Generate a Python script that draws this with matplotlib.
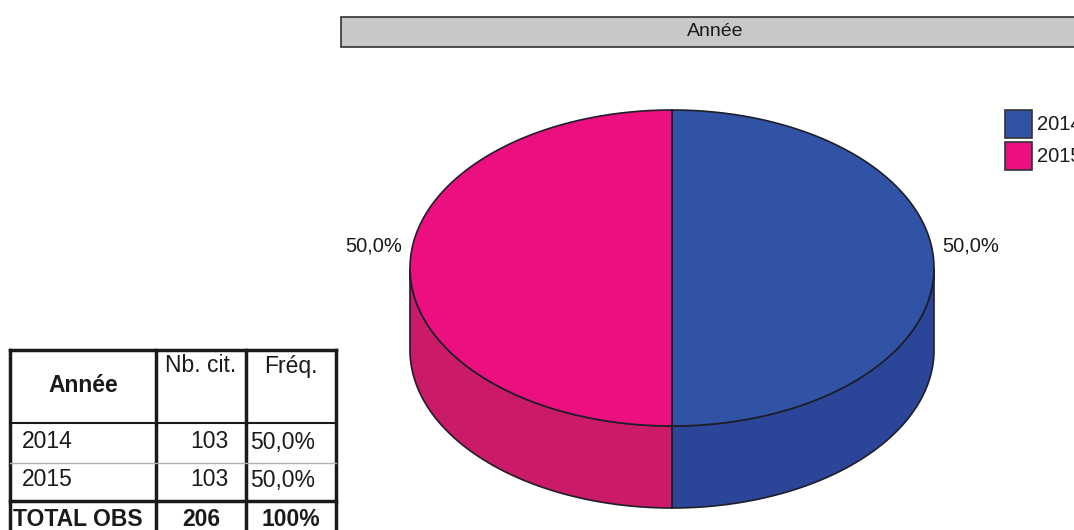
import numpy as np
import matplotlib.pyplot as plt
from matplotlib.patches import Polygon, Rectangle

# data
years = ['2014', '2015']
counts = [103, 103]
top_colors = ['#3053A5', '#EC0F80']
side_colors = ['#2B4599', '#CB1A67']
title = 'Année'
table_headers = ['Année', 'Nb. cit.', 'Fréq.']
total_label = 'TOTAL OBS'

plt.rcParams['font.family'] = ['Liberation Sans', 'DejaVu Sans']

fig = plt.figure(figsize=(10.74, 5.30), dpi=100)
ax = fig.add_axes([0, 0, 1, 1])
ax.set_xlim(0, 1074)
ax.set_ylim(530, 0)
ax.axis('off')

# pie geometry (pixels)
cx, cy, rx, ry, depth = 672, 268, 262, 158, 82
edge = '#1E1E2A'


def arc(a0, a1, dy=0, n=120):
    t = np.radians(np.linspace(a0, a1, n))
    return np.column_stack([cx + rx * np.cos(t), cy - ry * np.sin(t) + dy])


total = sum(counts)
fracs = [c / total for c in counts]
wedges = []
start = 90.0
for f in fracs:
    end = start - f * 360
    wedges.append((end, start))
    start = end

# sides (front half only)
for (lo, hi), col in zip(wedges, side_colors):
    for flo, fhi in [(-180, 0), (180, 360), (-540, -360)]:
        a, b = max(lo, flo), min(hi, fhi)
        if b > a:
            pts = np.vstack([arc(a, b), arc(b, a, depth)])
            ax.add_patch(Polygon(pts, closed=True, facecolor=col,
                                 edgecolor=edge, lw=1.2, zorder=1))

# tops
for (lo, hi), col in zip(wedges, top_colors):
    pts = np.vstack([[cx, cy], arc(lo, hi)])
    ax.add_patch(Polygon(pts, closed=True, facecolor=col,
                         edgecolor=edge, lw=1.2, zorder=2))

# percentage labels
for (lo, hi), f in zip(wedges, fracs):
    mid = np.radians((lo + hi) / 2)
    x = cx + (rx + 8) * np.cos(mid)
    ha = 'left' if np.cos(mid) >= 0 else 'right'
    ax.text(x, cy - 22, f'{f * 100:.1f}%'.replace('.', ','), ha=ha,
            va='center', fontsize=14.5, color='#1A1A1A')

# title bar
ax.add_patch(Rectangle((341, 17), 800, 30, facecolor='#C8C8C8',
                       edgecolor='#333333', lw=1.2, zorder=3))
ax.text(715, 31, title, ha='center', va='center', fontsize=14,
        color='#1A1A1A', zorder=4)

# legend
for i, (yr, col) in enumerate(zip(years, top_colors)):
    y0 = 110 + i * 32
    ax.add_patch(Rectangle((1005, y0), 27, 28, facecolor=col,
                           edgecolor='#333333', lw=1.2, zorder=3))
    ax.text(1037, y0 + 14, yr, ha='left', va='center', fontsize=14.5,
            color='#1A1A1A', clip_on=False)

# table
xl, xc1, xc2, xr = 10, 156, 246, 336
yt, yh, yr1, ytot, yb = 350, 423, 463, 501, 540
lk = dict(color='#1A1A1A', lw=2.5, solid_capstyle='projecting', zorder=3)
ax.plot([xl, xr], [yt, yt], **lk)
for x in (xl, xc1, xc2, xr):
    ax.plot([x, x], [yt, yb], **lk)
ax.plot([xl, xr], [yh, yh], color='#1A1A1A', lw=1.5, zorder=3)
ax.plot([xl, xr], [yr1, yr1], color='#B0B0B0', lw=1.0, zorder=3)
ax.plot([xl, xr], [ytot, ytot], **lk)

fs = 16.5
ax.text((xl + xc1) / 2, 386, table_headers[0], ha='center', va='center',
        fontsize=fs, fontweight='bold', color='#1A1A1A')
ax.text((xc1 + xc2) / 2, 366, table_headers[1], ha='center', va='center',
        fontsize=fs, color='#1A1A1A')
ax.text((xc2 + xr) / 2, 366, table_headers[2], ha='center', va='center',
        fontsize=fs, color='#1A1A1A')
for i, (yr, c, f) in enumerate(zip(years, counts, fracs)):
    y = 442 + i * 38
    ax.text(22, y, yr, ha='left', va='center', fontsize=fs, color='#1A1A1A')
    ax.text(228, y, str(c), ha='right', va='center', fontsize=fs,
            color='#1A1A1A')
    ax.text(250, y, f'{f * 100:.1f}%'.replace('.', ','), ha='left',
            va='center', fontsize=fs, color='#1A1A1A')
ax.text(13, 519, total_label, ha='left', va='center', fontsize=fs,
        fontweight='bold', color='#1A1A1A')
ax.text((xc1 + xc2) / 2, 519, str(total), ha='center', va='center',
        fontsize=fs, fontweight='bold', color='#1A1A1A')
ax.text((xc2 + xr) / 2, 519, f'{sum(fracs) * 100:.0f}%', ha='center',
        va='center', fontsize=fs, fontweight='bold', color='#1A1A1A')

fig.savefig('out.png', dpi=100)
